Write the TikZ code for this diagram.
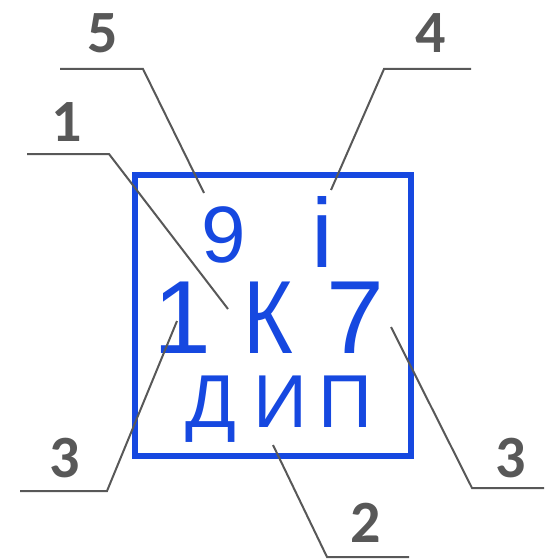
\documentclass[tikz,border=0pt]{standalone}
\usepackage{fontspec}
\setmainfont{Liberation Sans}
\newfontfamily\labfont{Carlito}
\definecolor{stampblue}{RGB}{22,72,224}
\definecolor{leadgray}{RGB}{88,88,88}
\tikzset{
  stamp/.style={inner sep=0pt, anchor=base, text=stampblue},
  big/.style={stamp, font=\fontsize{104}{104}\selectfont},
  mid/.style={stamp, font=\fontsize{80}{80}\selectfont},
  low/.style={stamp, font=\fontsize{75}{75}\selectfont},
  callout/.style={inner sep=0pt, anchor=base, text=leadgray, font=\labfont\bfseries\fontsize{60}{60}\selectfont},
  leader/.style={draw=leadgray, line width=2pt, line join=miter}
}
\begin{document}
\begin{tikzpicture}[x=1pt,y=-1pt]
\useasboundingbox (0,0) rectangle (544,559);
% stamp frame
\draw[stampblue, line width=6pt] (135,175) rectangle (411,456);
% stamp texts
\node[mid] (t9) at (224,262) {9};
\node[stamp, font=\fontsize{98}{98}\selectfont] (ti) at (322,267) {i};
\node[big] (t1) at (182,353) {1};
\node[big] (tK) at (268,353) {\scalebox{0.82}[1]{К}};
\node[big] (t7) at (355,353) {7};
\node[low] (tD) at (211,427) {Д};
\node[low] (tI) at (280,427) {И};
\node[low] (tP) at (345,427) {П};
% callout numbers
\node[callout] (n5) at (103,53) {5};
\node[callout] (n4) at (431,53) {4};
\node[callout] (n1) at (67,142) {1};
\node[callout] (n3a) at (65,477) {3};
\node[callout] (n3b) at (511,477) {3};
\node[callout] (n2) at (366,542) {2};
% leader coordinates
\coordinate (a5) at (60,69);  \coordinate (b5) at (143,69);  \coordinate (c5) at (204,193);
\coordinate (a1) at (27,154); \coordinate (b1) at (109,154); \coordinate (c1) at (228,309);
\coordinate (a4) at (471,69); \coordinate (b4) at (384,69);  \coordinate (c4) at (331,190);
\coordinate (a3) at (20,491); \coordinate (b3) at (107,491); \coordinate (c3) at (177,321);
\coordinate (d3) at (544,488);\coordinate (e3) at (472,488); \coordinate (f3) at (391,327);
\coordinate (a2) at (409,557);\coordinate (b2) at (327,557); \coordinate (c2) at (273,445);
% leaders
\draw[leader] (a5) -- (b5) -- (c5);
\draw[leader] (a1) -- (b1) -- (c1);
\draw[leader] (a4) -- (b4) -- (c4);
\draw[leader] (a3) -- (b3) -- (c3);
\draw[leader] (d3) -- (e3) -- (f3);
\draw[leader] (a2) -- (b2) -- (c2);
\end{tikzpicture}
\end{document}
